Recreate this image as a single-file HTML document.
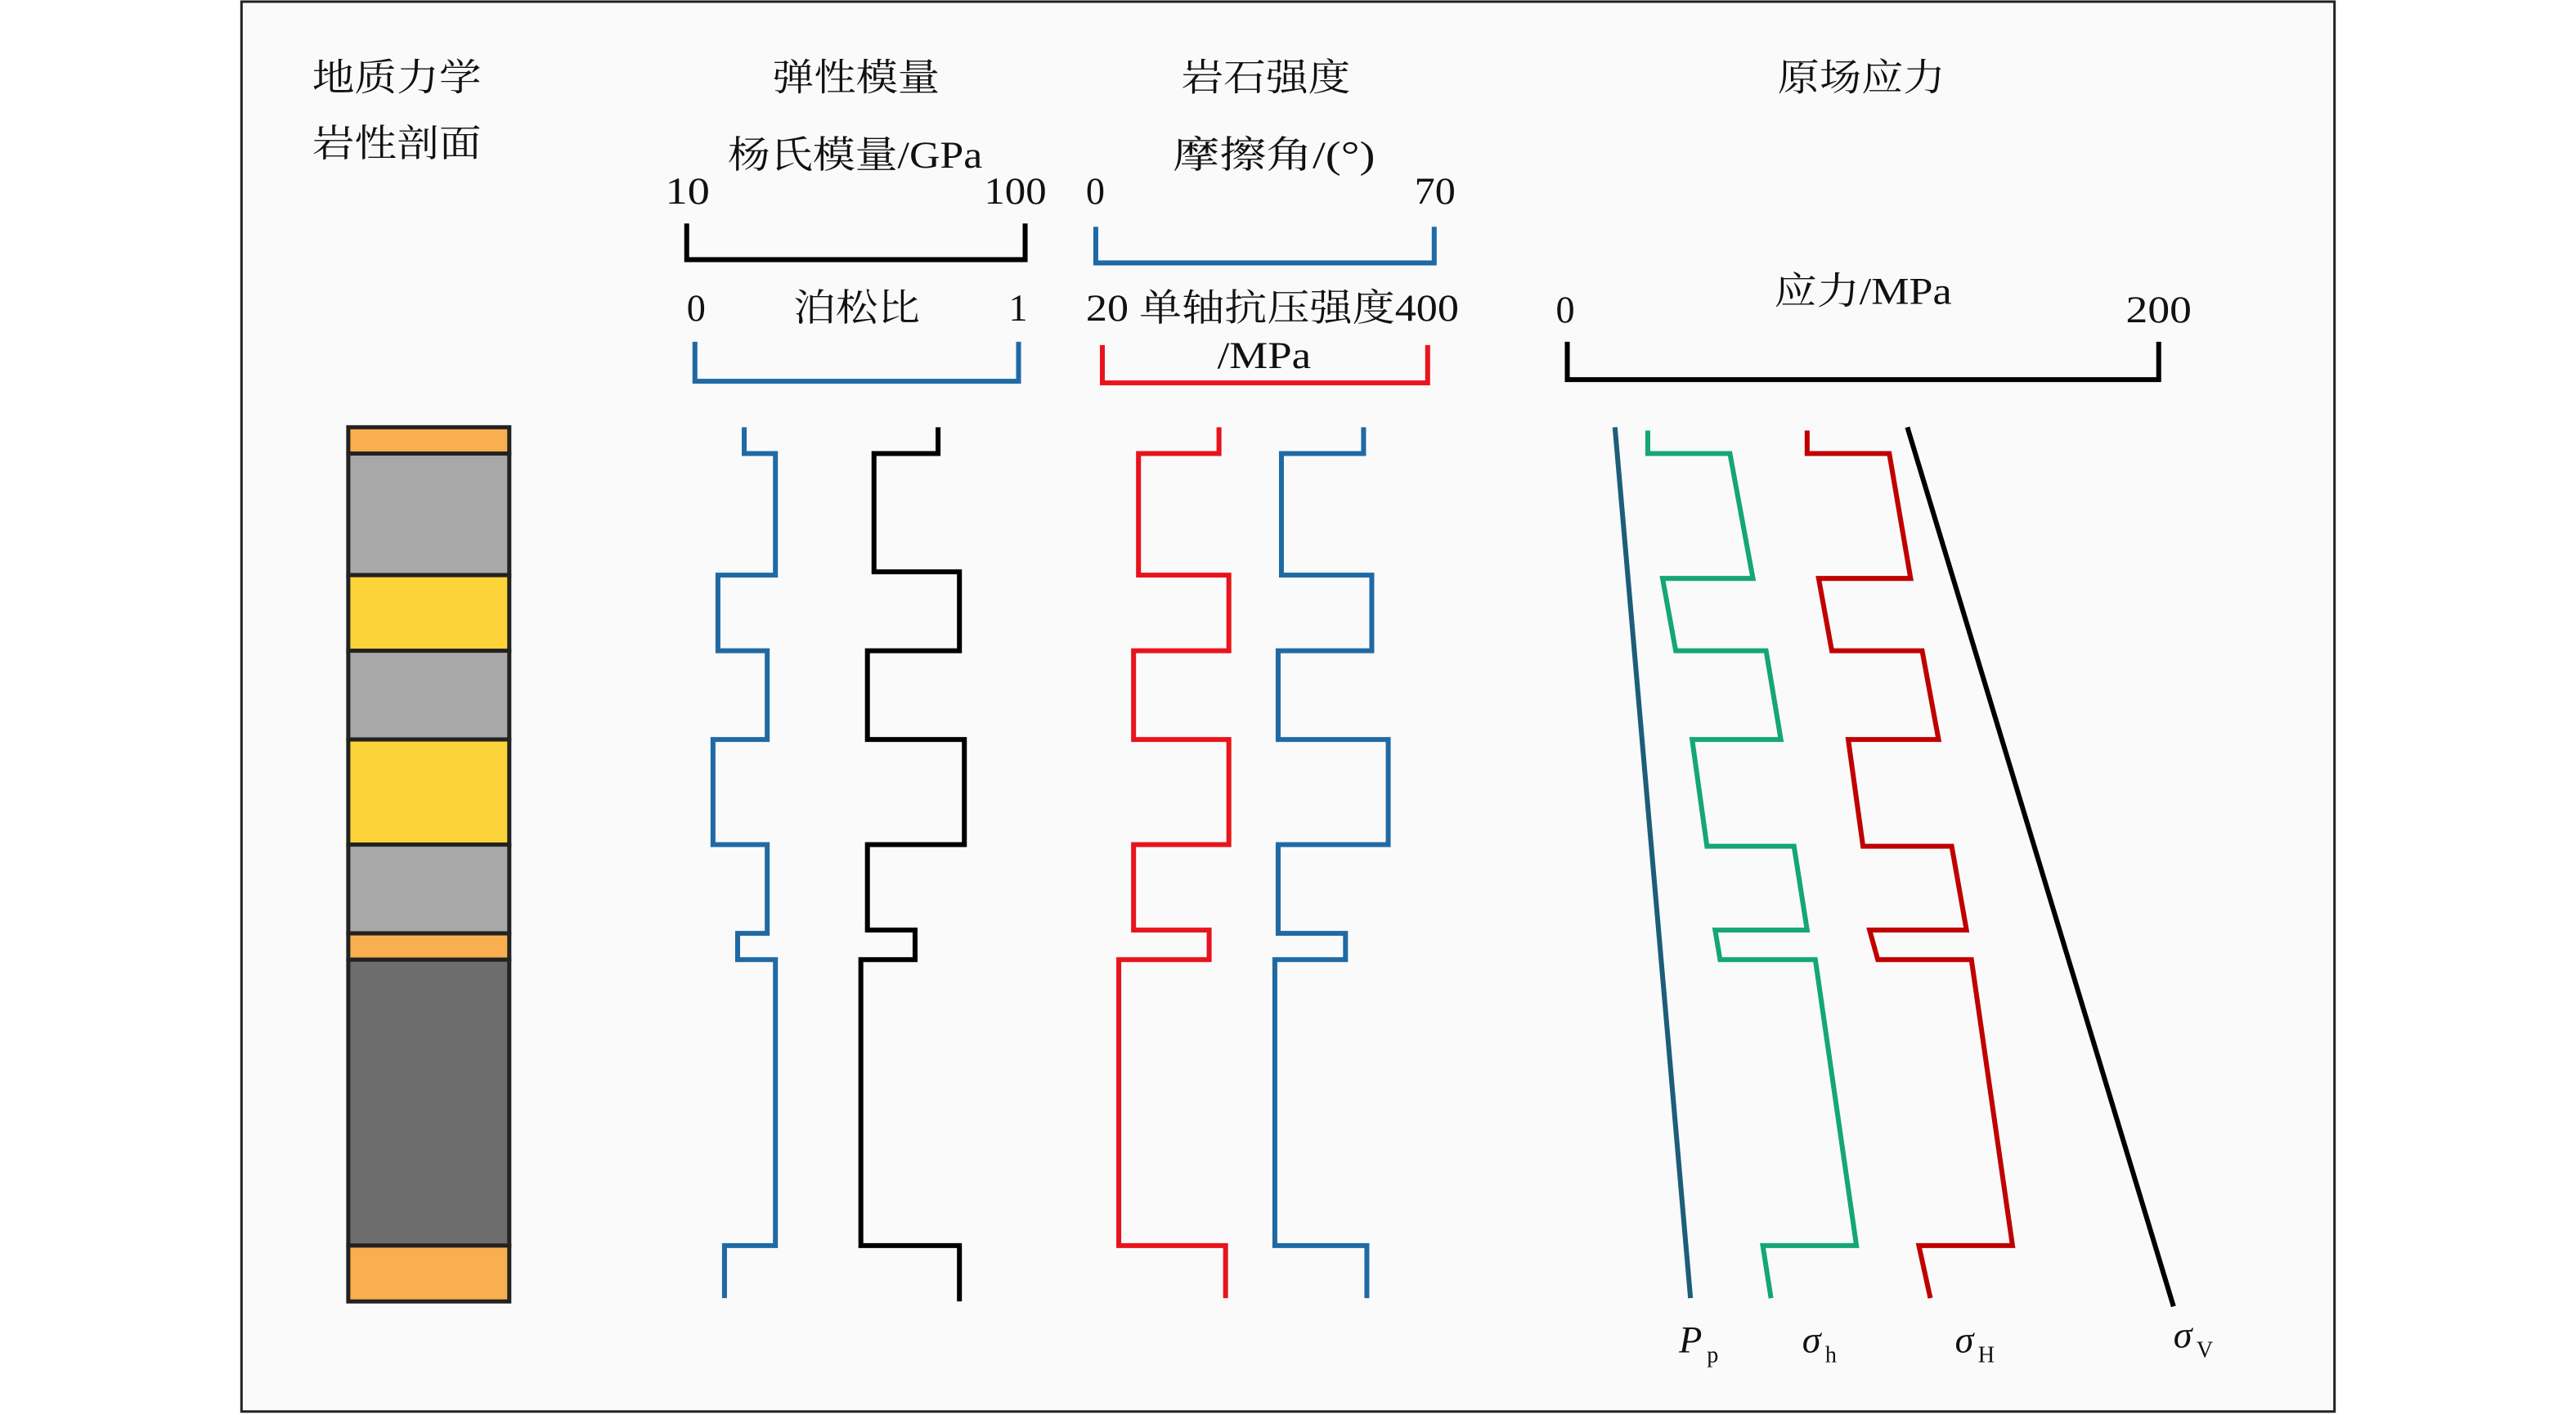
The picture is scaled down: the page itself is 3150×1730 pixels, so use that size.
<!DOCTYPE html>
<html><head><meta charset="utf-8"><style>
html,body{margin:0;padding:0;background:#fff;}
svg{display:block}
text{font-family:"Liberation Serif","Noto Serif CJK SC",serif;font-size:23px;fill:#111}
</style></head><body>
<svg width="3150" height="1730" viewBox="0 0 1568 861.1" preserveAspectRatio="none">
<rect x="147" y="1" width="1274" height="858" fill="#fafafa" stroke="#222" stroke-width="1.5"/>
<!-- headers -->
<text x="190" y="55" textLength="103" lengthAdjust="spacingAndGlyphs">地质力学</text>
<text x="190" y="95" textLength="103" lengthAdjust="spacingAndGlyphs">岩性剖面</text>
<text x="470" y="55" textLength="102" lengthAdjust="spacingAndGlyphs">弹性模量</text>
<text x="443" y="102" textLength="155" lengthAdjust="spacingAndGlyphs">杨氏模量/GPa</text>
<text x="405" y="124" textLength="27" lengthAdjust="spacingAndGlyphs">10</text>
<text x="599" y="124" textLength="38" lengthAdjust="spacingAndGlyphs">100</text>
<path d="M418 136V158H624V136" fill="none" stroke="#000" stroke-width="3"/>
<text x="418" y="195">0</text>
<text x="483" y="195" textLength="77" lengthAdjust="spacingAndGlyphs">泊松比</text>
<text x="614" y="195">1</text>
<path d="M423 208V232H620V208" fill="none" stroke="#1f6aa5" stroke-width="3"/>
<text x="719" y="55" textLength="103" lengthAdjust="spacingAndGlyphs">岩石强度</text>
<text x="714" y="102" textLength="123" lengthAdjust="spacingAndGlyphs">摩擦角/(°)</text>
<text x="661" y="124">0</text>
<text x="861" y="124" textLength="25" lengthAdjust="spacingAndGlyphs">70</text>
<path d="M667 138V160H873V138" fill="none" stroke="#1f6aa5" stroke-width="3"/>
<text x="661" y="195" textLength="227" lengthAdjust="spacingAndGlyphs">20 单轴抗压强度400</text>
<text x="741" y="224" textLength="57" lengthAdjust="spacingAndGlyphs">/MPa</text>
<path d="M671 210V233H869V210" fill="none" stroke="#e8141c" stroke-width="3"/>
<text x="1082" y="55" textLength="102" lengthAdjust="spacingAndGlyphs">原场应力</text>
<text x="1080" y="185" textLength="108" lengthAdjust="spacingAndGlyphs">应力/MPa</text>
<text x="947" y="196">0</text>
<text x="1294" y="196" textLength="40" lengthAdjust="spacingAndGlyphs">200</text>
<path d="M954 208V231H1314V208" fill="none" stroke="#000" stroke-width="3"/>
<!-- lithology column -->
<g stroke="#222" stroke-width="2.5">
<rect x="212" y="260" width="98" height="16" fill="#f9ae50"/>
<rect x="212" y="276" width="98" height="74" fill="#a8a8a8"/>
<rect x="212" y="350" width="98" height="46" fill="#fdd33a"/>
<rect x="212" y="396" width="98" height="54" fill="#a8a8a8"/>
<rect x="212" y="450" width="98" height="64" fill="#fdd33a"/>
<rect x="212" y="514" width="98" height="54" fill="#a8a8a8"/>
<rect x="212" y="568" width="98" height="16" fill="#f9ae50"/>
<rect x="212" y="584" width="98" height="174" fill="#6d6d6d"/>
<rect x="212" y="758" width="98" height="34" fill="#f9ae50"/>
</g>
<g fill="none" stroke-width="3" stroke-linejoin="miter">
<path stroke="#1f6aa5" d="M453 260V276H472V350H437V396H467V450H434V514H467V568H449V584H472V758H441V790"/>
<path stroke="#000" d="M571 260V276H532V348H584V396H528V450H587V514H528V566H557V584H524V758H584V792"/>
<path stroke="#e8141c" d="M742 260V276H693V350H748V396H690V450H748V514H690V566H736V584H681V758H746V790"/>
<path stroke="#1f6aa5" d="M830 260V276H780V350H835V396H778V450H845V514H778V568H819V584H776V758H832V790"/>
<path stroke="#1d5d7a" d="M983 260L1029 790"/>
<path stroke="#14a773" d="M1003 262V276H1053L1067 352H1012L1020 396H1075L1084 450H1030L1039 515H1092L1100 566H1044L1047 584H1105L1130 758H1073L1078 790"/>
<path stroke="#c00000" d="M1100 262V276H1150L1163 352H1107L1115 396H1170L1180 450H1125L1134 515H1188L1197 566H1138L1143 584H1200L1225 758H1168L1175 790"/>
<path stroke="#000" d="M1161 260L1323 795"/>
</g>
<text x="1022" y="823" font-style="italic">P</text><text x="1039" y="829" font-size="14" style="font-size:14px">p</text>
<text x="1097" y="823" font-style="italic">σ</text><text x="1111" y="829" style="font-size:14px">h</text>
<text x="1190" y="823" font-style="italic">σ</text><text x="1204" y="829" style="font-size:14px">H</text>
<text x="1323" y="820" font-style="italic">σ</text><text x="1337" y="826" style="font-size:14px">V</text>
</svg>
</body></html>
